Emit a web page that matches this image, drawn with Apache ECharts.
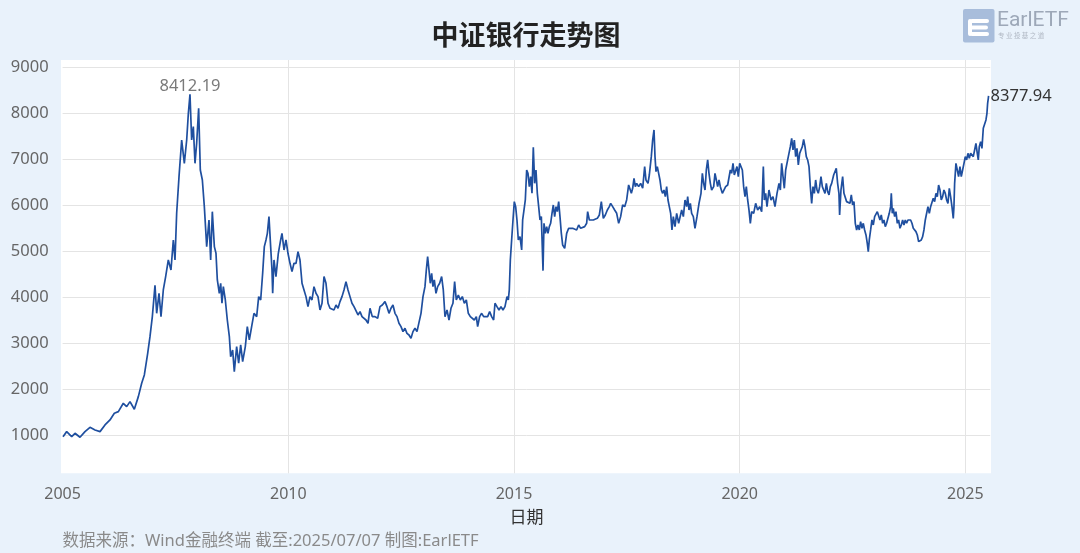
<!DOCTYPE html>
<html>
<head>
<meta charset="utf-8">
<script src="https://cdn.jsdelivr.net/npm/echarts@6/dist/echarts.min.js"></script>
<style>html,body{margin:0;padding:0;background:#e9f2fb}#main{width:1080px;height:553px}</style>
</head>
<body>
<div id="main"></div>
<script>
// Decimal-year dates and index values
const dates = [
2005.009,2005.090,2005.201,2005.275,2005.385,2005.496,2005.607,2005.718,2005.829,2005.939,
2006.050,2006.146,2006.235,2006.345,2006.419,2006.493,2006.589,2006.678,2006.752,2006.811,
2006.885,2006.936,2006.988,2007.032,2007.047,2007.084,2007.136,2007.180,2007.231,2007.283,
2007.342,2007.401,2007.453,2007.490,2007.527,2007.579,2007.638,2007.697,2007.749,2007.786,
2007.822,2007.859,2007.896,2007.933,2007.970,2008.014,2008.051,2008.096,2008.140,2008.192,
2008.243,2008.280,2008.317,2008.362,
2008.398,2008.428,2008.472,2008.502,2008.531,2008.561,2008.605,2008.649,2008.694,2008.723,
2008.767,2008.804,2008.856,2008.900,2008.945,2008.989,2009.048,2009.092,2009.137,2009.188,
2009.240,2009.299,2009.344,2009.388,2009.432,2009.469,2009.506,2009.536,2009.572,2009.609,
2009.639,2009.654,2009.683,2009.727,2009.779,2009.831,2009.860,2009.905,2009.949,2009.993,
2010.038,2010.082,2010.126,2010.171,2010.215,2010.259,2010.304,2010.348,2010.392,2010.436,
2010.481,2010.525,2010.569,2010.614,2010.658,2010.702,2010.747,2010.791,2010.835,2010.880,
2010.924,2010.968,2011.012,2011.057,2011.101,2011.145,2011.190,2011.234,2011.278,2011.323,
2011.367,2011.411,2011.456,2011.500,2011.544,2011.589,2011.633,2011.677,2011.721,2011.766,
2011.795,
2011.810,2011.861,2011.921,2011.980,2012.031,2012.083,2012.142,2012.186,2012.231,2012.275,
2012.319,2012.364,2012.408,2012.452,2012.497,2012.541,2012.585,2012.629,2012.674,2012.718,
2012.762,2012.807,2012.851,2012.895,2012.940,2012.984,2013.028,2013.058,2013.087,2013.117,
2013.146,2013.176,2013.205,2013.235,2013.272,2013.309,2013.353,2013.397,2013.434,2013.471,
2013.516,2013.560,2013.604,2013.648,2013.685,2013.722,2013.767,2013.811,2013.855,2013.900,
2013.944,2013.988,2014.033,2014.077,2014.121,2014.166,2014.195,2014.239,2014.284,2014.328,
2014.372,2014.416,2014.461,2014.505,2014.549,2014.579,2014.623,2014.668,2014.712,2014.756,
2014.800,2014.845,2014.874,2014.896,2014.919,2014.948,2014.978,2015.007,2015.037,2015.066,
2015.096,
2015.133,2015.170,2015.192,2015.222,2015.251,2015.281,2015.310,2015.340,2015.369,2015.399,
2015.428,2015.458,2015.487,2015.517,2015.547,2015.576,2015.606,2015.643,2015.665,2015.694,
2015.724,2015.753,2015.783,2015.812,2015.842,2015.871,2015.901,2015.931,2015.960,2015.990,
2016.019,2016.049,2016.078,2016.123,2016.167,2016.211,2016.255,2016.300,2016.344,2016.388,
2016.433,2016.477,2016.521,2016.566,2016.610,2016.632,2016.669,2016.713,2016.758,2016.802,
2016.846,2016.891,2016.935,2016.979,2017.023,2017.068,2017.112,2017.142,2017.186,2017.230,
2017.275,2017.319,2017.363,2017.407,2017.452,2017.496,2017.540,2017.570,2017.600,2017.629,
2017.659,2017.688,2017.718,2017.762,2017.806,2017.851,2017.895,2017.924,2017.969,2017.998,
2018.042,2018.072,2018.102,2018.124,2018.146,2018.175,2018.205,2018.234,2018.264,2018.294,
2018.323,2018.353,2018.382,2018.412,2018.441,2018.471,2018.500,2018.530,2018.567,2018.604,
2018.648,
2018.715,2018.752,2018.789,2018.825,2018.848,2018.877,2018.907,2018.936,2018.973,2019.010,
2019.054,2019.099,2019.143,2019.173,2019.202,2019.232,2019.261,2019.291,2019.320,2019.350,
2019.379,2019.424,2019.453,2019.483,2019.512,2019.542,2019.571,2019.616,2019.660,2019.689,
2019.734,2019.763,2019.793,2019.822,2019.852,2019.881,2019.911,2019.940,2019.970,2020.000,
2020.029,2020.059,2020.088,2020.118,2020.147,2020.177,2020.206,2020.236,2020.265,2020.310,
2020.354,2020.398,2020.443,2020.487,2020.524,2020.546,2020.576,2020.605,2020.649,2020.694,
2020.738,2020.782,2020.827,2020.871,2020.901,2020.930,2020.960,2020.989,2021.019,2021.063,
2021.092,2021.122,2021.152,2021.181,2021.211,2021.240,2021.270,2021.299,2021.329,2021.358,
2021.388,2021.417,2021.447,2021.476,2021.506,2021.536,2021.565,2021.595,2021.624,2021.654,
2021.683,2021.713,2021.742,2021.772,2021.801,2021.831,2021.860,2021.890,2021.920,2021.949,
2021.979,2022.008,2022.038,2022.082,
2022.111,2022.140,2022.170,2022.199,2022.214,2022.244,2022.281,2022.310,2022.340,2022.369,
2022.406,2022.443,2022.473,2022.502,2022.532,2022.561,2022.591,2022.620,2022.650,2022.679,
2022.709,2022.738,2022.768,2022.798,2022.827,2022.849,2022.871,2022.901,2022.930,2022.960,
2022.990,2023.019,2023.049,2023.078,2023.108,2023.137,2023.167,2023.196,2023.226,2023.255,
2023.285,2023.314,2023.344,2023.359,2023.381,2023.403,2023.433,2023.462,2023.492,2023.521,
2023.551,2023.580,2023.610,2023.639,2023.669,2023.698,2023.728,2023.757,2023.787,2023.817,
2023.846,2023.876,2023.905,2023.935,2023.964,2023.994,2024.023,2024.053,2024.082,2024.112,
2024.141,2024.171,2024.201,2024.230,2024.260,2024.289,2024.319,2024.348,2024.378,2024.407,
2024.437,2024.466,2024.496,2024.525,2024.555,2024.585,2024.614,2024.644,2024.673,2024.703,
2024.732,2024.747,2024.762,2024.791,2024.821,2024.850,2024.880,2024.909,2024.939,2024.969,
2024.998,2025.028,2025.057,2025.087,2025.116,2025.146,2025.175,2025.205,2025.234,2025.264,
2025.286,2025.308,2025.338,2025.367,2025.397,2025.426,2025.456,2025.478,2025.493,2025.508,
2025.514
];
const values = [
971,1080,971,1044,957,1080,1174,1116,1080,1225,
1334,1479,1515,1696,1624,1732,1566,1841,2131,2312,
2783,3145,3580,4087,4261,3652,4087,3580,4160,4450,
4812,4594,5247,4812,5826,6623,7420,6913,7420,8000,
8412.19,7420,7710,6913,7348,8109,6768,6551,5971,5102,
5681,4812,5862,5102,
4957,4377,4087,4305,3870,4232,3942,3507,3145,2710,
2855,2384,2928,2566,2964,2602,2928,3362,3073,3362,
3652,3580,4015,3942,4522,5102,5247,5391,5754,5102,
4594,4087,4812,4450,4957,5247,5391,5029,5247,4957,
4739,4558,4739,4739,4993,4812,4305,4160,4015,3797,
4015,3942,4232,4087,4015,3725,3870,4450,4305,3870,
3761,3797,3725,3833,3761,3906,4015,4160,4341,4160,
4015,3870,3797,3833,3616,3689,3580,3616,3507,3435,
3652,
3761,3580,3580,3543,3797,3833,3906,3797,3652,3761,
3833,3652,3580,3435,3362,3254,3326,3217,3181,3109,
3254,3326,3254,3290,3652,4015,4232,4594,4884,4594,
4305,4522,4232,4377,4087,4232,4305,4450,4160,3580,
3725,3507,3761,3870,4341,3942,4051,3942,4015,3870,
3942,3652,3580,3616,3507,3580,3362,3580,3652,3580,
3616,3580,3689,3580,3507,3870,3797,3725,3797,3725,
3797,4015,3942,4160,4812,5247,5681,6080,5971,5681,
5247,
5319,5029,5681,5899,6116,6768,6696,6406,6623,6261,
7261,6478,6768,6261,5971,5681,5754,4580,5609,5391,
5536,5391,5536,5609,5826,6007,5754,5971,5862,6080,
5754,5391,5138,5065,5391,5500,5536,5500,5536,5464,
5573,5500,5536,5536,5609,5862,5681,5645,5681,5681,
5717,5790,6080,5717,5790,5899,5971,6043,5971,5899,
5826,5609,5754,6007,5971,6116,6442,6478,6261,6370,
6587,6406,6478,6406,6478,6370,6841,6551,6478,6659,
7058,7420,7638,7058,6732,6841,6696,6551,6333,6261,
6333,6189,6406,6116,5971,5826,5464,5754,5536,5826,
5609,
5899,5754,6116,5971,6189,5899,6043,5826,5754,5500,
5754,6043,6261,6696,6478,6333,6768,6986,6696,6478,
6333,6406,6696,6551,6406,6551,6406,6261,6225,6406,
6442,6406,6768,6696,6913,6659,6696,6841,6623,6913,
6949,6768,6406,6189,6406,6116,5899,5609,5862,5826,
6043,5899,5971,5862,6841,6116,6261,5971,6333,6116,
6189,5971,6261,6478,6333,6913,6623,6370,6768,6986,
7130,7275,7457,7203,7420,7058,7239,6877,7130,7203,
7275,7435,7275,7058,6986,6841,6406,6043,6406,6261,
6551,6333,6261,6406,6623,6406,6333,6261,6478,6297,
6225,6406,6478,6659,
6659,6804,6478,6261,5790,6333,6623,6261,6297,6080,
6043,6043,6225,6007,6080,5609,5464,5573,5464,5645,
5500,5609,5464,5355,5174,4993,5247,5464,5681,5573,
5754,5717,5862,5899,5681,5790,5609,5681,5536,5609,
5609,5826,5971,6261,5826,5935,5754,5862,5609,5681,
5500,5573,5681,5573,5681,5609,5681,5645,5681,5609,
5500,5464,5428,5355,5210,5174,5247,5319,5464,5681,
5717,5971,5826,5971,5935,6152,6080,6261,6189,6442,
6333,6116,6189,6333,6261,6116,6043,6370,6189,5971,
5717,5971,6478,6913,6768,6623,6841,6623,6768,6913,
7058,6986,7130,7022,7130,7167,7058,7203,7348,7130,
6986,7275,7384,7239,7674,7710,7855,8000,8217,8326,
8377.94
];
const yTicks = [1000,2000,3000,4000,5000,6000,7000,8000,9000];
const xTicks = [2005,2010,2015,2020,2025];
const titleText = '中证银行走势图';
const xAxisName = '日期';
const footerText = '数据来源：Wind金融终端 截至:2025/07/07 制图:EarlETF';

const seriesData = dates.map((d, i) => [d, values[i]]);
const last = seriesData[seriesData.length - 1];

const chart = echarts.init(document.getElementById('main'));
const labelFont = "'Noto Sans', 'Noto Sans CJK SC', sans-serif";
const gridLine = '#e4e4e4';

chart.setOption({
  animation: false,
  backgroundColor: '#e9f2fb',
  graphic: [
    { type: 'rect', z: -10, shape: { x: 61, y: 60, width: 930, height: 413.3 }, style: { fill: '#ffffff' } },
    { type: 'text', x: 526, y: 35, style: { text: titleText, fill: '#222', font: "bold 27px 'Noto Sans CJK SC'", textAlign: 'center', textVerticalAlign: 'middle' } },
    { type: 'text', x: 62.5, y: 541, style: { text: footerText, fill: '#8a8a8a', font: "16.5px 'Noto Sans', 'Noto Sans CJK SC'", textAlign: 'left', textVerticalAlign: 'middle' } },
    // logo
    { type: 'rect', shape: { x: 963, y: 9, width: 31.5, height: 33.5, r: 2 }, style: { fill: '#a8bddb' } },
    { type: 'rect', shape: { x: 970, y: 19, width: 19, height: 4, r: 2 }, style: { fill: '#ffffff' } },
    { type: 'rect', shape: { x: 968, y: 25.5, width: 20, height: 4, r: 2 }, style: { fill: '#ffffff' } },
    { type: 'rect', shape: { x: 970, y: 32, width: 19, height: 4, r: 2 }, style: { fill: '#ffffff' } },
    { type: 'rect', shape: { x: 968, y: 19, width: 4, height: 17, r: 2 }, style: { fill: '#ffffff' } },
    { type: 'text', x: 997, y: 21, style: { text: 'EarlETF', fill: '#9da8b8', font: "21px Roboto", textAlign: 'left', textVerticalAlign: 'middle' } },
    { type: 'text', x: 998, y: 36, style: { text: '专 业 投 基 之 道', fill: '#b0b8c4', font: "6.5px 'Noto Sans CJK SC'", textAlign: 'left', textVerticalAlign: 'middle' } }
  ],
  grid: [
    { left: 62.6, top: 67.3, width: 927.6, height: 414 },
    { left: 62.6, top: 60, width: 927.6, height: 413.3 }
  ],
  xAxis: [
    { gridIndex: 0, type: 'value', min: 2005, max: 2025.55, show: false },
    {
      gridIndex: 1, type: 'value', min: xTicks[0], max: 2025.55, interval: 5,
      name: xAxisName, nameLocation: 'middle', nameGap: 35,
      nameTextStyle: { color: '#333', fontSize: 17, fontFamily: "'Noto Sans CJK SC'" },
      axisLine: { show: false }, axisTick: { show: false },
      axisLabel: { color: '#666', fontSize: 16, fontFamily: labelFont, margin: 13, showMaxLabel: false,
        formatter: v => (xTicks.indexOf(v) >= 0 ? String(v) : '') },
      splitLine: { show: true, lineStyle: { width: 1, color: ['rgba(0,0,0,0)', gridLine, gridLine, gridLine, gridLine, 'rgba(0,0,0,0)'] } }
    }
  ],
  yAxis: [
    {
      gridIndex: 0, type: 'value', min: 0, max: yTicks[yTicks.length - 1], interval: 1000,
      axisLine: { show: false }, axisTick: { show: false },
      axisLabel: { color: '#666', fontSize: 16.5, fontFamily: labelFont, margin: 14,
        formatter: v => (yTicks.indexOf(v) >= 0 ? String(v) : '') },
      splitLine: { show: true, lineStyle: { width: 1, color: ['rgba(0,0,0,0)', gridLine, gridLine, gridLine, gridLine, gridLine, gridLine, gridLine, gridLine, gridLine] } }
    },
    { gridIndex: 1, type: 'value', min: 174, max: 9159, show: false, splitLine: { show: false } }
  ],
  series: [{
    type: 'line',
    xAxisIndex: 1, yAxisIndex: 1,
    data: seriesData,
    symbol: 'none', showSymbol: false,
    lineStyle: { color: '#1f4f9f', width: 1.7 },
    z: 3,
    markPoint: {
      symbol: 'circle', symbolSize: 0,
      label: { show: true, fontSize: 16.5, fontFamily: labelFont, formatter: p => String(p.value) },
      data: [
        { type: 'max', valueIndex: 1, label: { position: 'top', distance: 0, color: '#7a7a7a' } },
        { coord: last, value: last[1], label: { position: 'right', distance: 2, color: '#333' } }
      ]
    }
  }]
});
</script>
</body>
</html>
